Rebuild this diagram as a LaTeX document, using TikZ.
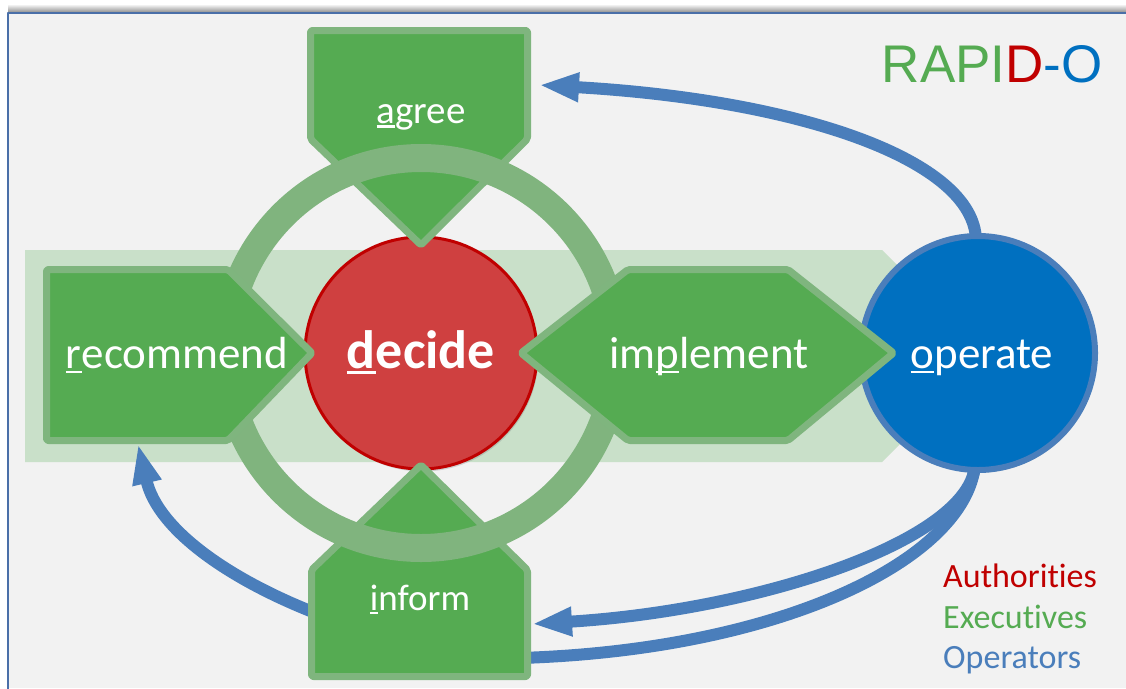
\documentclass[tikz,border=0pt]{standalone}
\usepackage{fontspec}
\setmainfont{Carlito}[Ligatures=NoCommon]
\newfontfamily\rapidfont{Liberation Sans}
\usetikzlibrary{arrows.meta,shadows}
\definecolor{bgGray}{HTML}{F2F2F2}
\definecolor{frameBlue}{HTML}{4A6FA8}
\definecolor{bandGreen}{HTML}{C9E0C9}
\definecolor{ringGreen}{HTML}{80B47E}
\definecolor{shapeGreen}{HTML}{55AB52}
\definecolor{edgeGreen}{HTML}{7FB57E}
\definecolor{decideRed}{HTML}{CF4040}
\definecolor{edgeRed}{HTML}{C00000}
\definecolor{operBlue}{HTML}{0070C0}
\definecolor{flowBlue}{HTML}{4A7EBB}
\newcommand\keyletter[1]{\setbox0\hbox{#1}\rlap{\rule[-0.12em]{\wd0}{0.06em}}\box0}

\begin{document}
\begin{tikzpicture}[x=1pt, y=-1pt, line join=round,
  panel/.style={fill=shapeGreen, draw=edgeGreen, line width=7pt, rounded corners=2pt},
  shadowed/.style={drop shadow={shadow xshift=1.5pt, shadow yshift=-2.5pt, opacity=0.3}},
  flow/.style={draw=flowBlue, line width=12pt},
  tip/.style={-{Triangle[length=40pt,width=27pt]}},
  lbl/.style={text=white, anchor=base, inner sep=0pt, font=\fontsize{45}{50}\selectfont},
  legend/.style={anchor=base west, inner sep=0pt, font=\fontsize{34}{40}\selectfont}]
\useasboundingbox (0,0) rectangle (1126,688);

% frame
\fill [white] (0,0) rectangle (1126,688);
\shade [top color=white, bottom color=black!45] (8,4) rectangle (1126,12.5);
\fill [bgGray] (8,13) rectangle (1126,688);
\draw [frameBlue, line width=1.6pt] (8,690) -- (8,13) -- (1130,13);

% band behind the row
\fill [bandGreen] (25,250) -- (882,250) -- (988,356) -- (882,462) -- (25,462) -- cycle;

% end points of the flows
\coordinate (opTop) at (976,240);
\coordinate (opBot) at (975,465);
\coordinate (agreeIn) at (539,85);
\coordinate (informOut) at (318,614);
\coordinate (recIn) at (138,444);
\coordinate (informIn) at (532,624);
\coordinate (informBot) at (520,658);

\draw [flow, tip] (opTop) .. controls (974,160) and (800,100) .. (agreeIn);
\draw [flow, tip] (informOut) .. controls (230,580) and (158,530) .. (recIn);
\draw [flow] (opBot) .. controls (965,560) and (780,650) .. (informBot);
\draw [flow, tip] (opBot) .. controls (970,540) and (760,610) .. (informIn);

% circles
\filldraw [shadowed, fill=operBlue, draw=flowBlue, line width=6pt] (978,353) circle (117);
\filldraw [shadowed, fill=decideRed, draw=edgeRed, line width=3pt] (421,353) circle (116);

% vertical arrows, under the ring
\draw [panel, shadowed] (310.5,30.5) -- (527.5,30.5) -- (527.5,139) -- (421,245) -- (310.5,139) -- cycle;
\draw [panel, shadowed] (421,465) -- (527.5,570) -- (527.5,676.5) -- (311.5,676.5) -- (311.5,570) -- cycle;

\draw [ringGreen, line width=28pt] (421,353) circle (195);

% horizontal arrows, over the ring
\draw [panel, shadowed] (46.5,269.5) -- (228,269.5) -- (312,353) -- (228,440.5) -- (46.5,440.5) -- cycle;
\draw [panel, shadowed] (521,353) -- (628,269.5) -- (788,269.5) -- (893.5,353) -- (788,440.5) -- (628,440.5) -- cycle;

% labels
\node [lbl, font=\fontsize{39}{45}\selectfont] (agree) at (421,123) {\keyletter{a}gree};
\node [lbl] (recommend) at (177,368) {\keyletter{r}ecommend};
\node [lbl, font=\fontsize{54}{60}\bfseries] (decide) at (421,368) {\keyletter{d}ecide};
\node [lbl] (implement) at (709,368) {im\keyletter{p}lement};
\node [lbl] (operate) at (982,368) {\keyletter{o}perate};
\node [lbl, font=\fontsize{37}{43}\selectfont] (inform) at (420,610) {\keyletter{i}nform};

\node [anchor=base east, inner sep=0pt, font=\rapidfont\fontsize{53}{60}\selectfont] (title) at (1103,82)
  {\textcolor{shapeGreen}{RAPI}\textcolor{edgeRed}{D}\textcolor{operBlue}{-O}};

\node [legend, text=edgeRed] (auth) at (943,587) {Authorities};
\node [legend, text=shapeGreen] (exec) at (943,628) {Executives};
\node [legend, text=flowBlue] (oper) at (943,668) {Operators};
\end{tikzpicture}
\end{document}
